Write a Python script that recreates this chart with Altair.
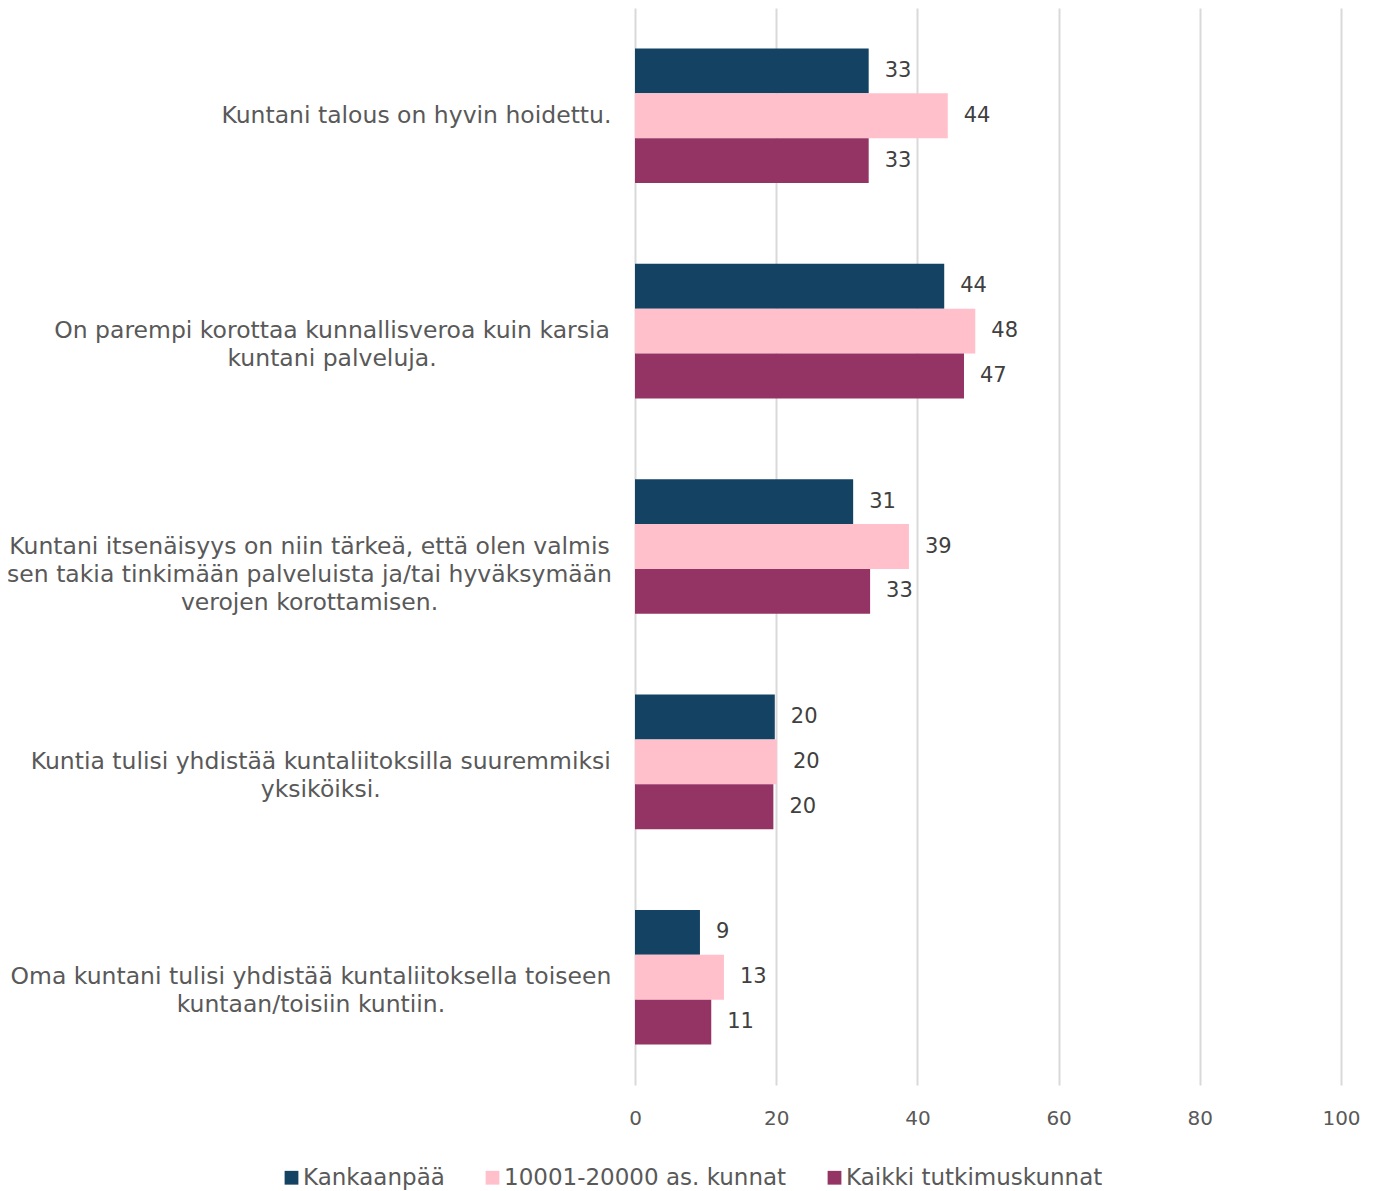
import altair as alt
import pandas as pd

FONT = "DejaVu Sans"
CAT_FONT_SIZE = 23.5

categories = [
    "Kuntani talous on hyvin hoidettu.",
    "On parempi korottaa kunnallisveroa kuin karsia|kuntani palveluja.",
    "Kuntani itsenäisyys on niin tärkeä, että olen valmis|sen takia tinkimään palveluista ja/tai hyväksymään|verojen korottamisen.",
    "Kuntia tulisi yhdistää kuntaliitoksilla suuremmiksi|yksiköiksi.",
    "Oma kuntani tulisi yhdistää kuntaliitoksella toiseen|kuntaan/toisiin kuntiin.",
]
series = ["Kankaanpää", "10001-20000 as. kunnat", "Kaikki tutkimuskunnat"]
kankaanpaa = [33.1, 43.8, 30.9, 19.8, 9.2]
kunnat_10001_20000 = [44.3, 48.2, 38.8, 20.1, 12.6]
kaikki = [33.1, 46.6, 33.3, 19.6, 10.8]
colors = ["#134263", "#FFC0CB", "#933465"]
x_ticks = [0, 20, 40, 60, 80, 100]

# approximate DejaVu Sans advance widths (1/2048 em) to right-align centred label blocks
ADV = {" ": 651, ".": 651, ",": 651, "/": 690, "-": 739,
       "a": 1255, "b": 1300, "c": 1126, "d": 1300, "e": 1260, "f": 721,
       "g": 1300, "h": 1298, "i": 569, "j": 569, "k": 1186, "l": 569,
       "m": 1995, "n": 1298, "o": 1253, "p": 1300, "r": 842, "s": 1067,
       "t": 803, "u": 1298, "v": 1212, "y": 1212, "ä": 1255, "ö": 1253,
       "K": 1343, "O": 1612}


def text_width(s):
    return sum(ADV.get(ch, 1250) for ch in s) / 2048 * CAT_FONT_SIZE


rows = []
for i, c in enumerate(categories):
    for s, vals in zip(series, [kankaanpaa, kunnat_10001_20000, kaikki]):
        rows.append({"cat": c, "series": s, "value": vals[i]})
df = pd.DataFrame(rows)

lab_df = pd.DataFrame({
    "cat": categories,
    "blockw": [max(text_width(p) for p in c.split("|")) for c in categories],
})

y_enc = alt.Y("cat:N", sort=categories, axis=None,
              scale=alt.Scale(paddingInner=0.375, paddingOuter=0.1875))
x_enc = alt.X("value:Q", scale=alt.Scale(domain=[0, 100], nice=False),
              axis=alt.Axis(values=x_ticks, title=None, domain=False, ticks=False,
                            tickSize=0, labelPadding=23, labelFontSize=20,
                            labelFlush=False,
                            labelColor="#595959", labelFont=FONT,
                            gridColor="#D9D9D9", gridWidth=2))
yoff = alt.YOffset("series:N", sort=series,
                   scale=alt.Scale(paddingInner=0, paddingOuter=0))

bars = alt.Chart(df).mark_bar().encode(
    x=x_enc,
    y=y_enc,
    yOffset=yoff,
    color=alt.Color("series:N", sort=series,
                    scale=alt.Scale(domain=series, range=colors),
                    legend=alt.Legend(orient="none", legendX=-355, legendY=1158,
                                      direction="horizontal", title=None,
                                      symbolType="square", symbolSize=190,
                                      symbolStrokeWidth=0, labelLimit=0,
                                      labelFontSize=23, labelFont=FONT,
                                      labelColor="#595959", labelOffset=0,
                                      columnPadding=36)),
)

values = alt.Chart(df).mark_text(align="left", baseline="middle", dx=16,
                                 fontSize=21, font=FONT, color="#404040").encode(
    x="value:Q",
    y=alt.Y("cat:N", sort=categories),
    yOffset=alt.YOffset("series:N", sort=series),
    text=alt.Text("value:Q", format=".0f"),
)

cat_labels = alt.Chart(lab_df).mark_text(
    align="center", baseline="middle", lineBreak="|", lineHeight=28,
    fontSize=CAT_FONT_SIZE, font=FONT, color="#595959",
    dx=alt.ExprRef("-23 - datum.blockw / 2"),
).encode(
    x=alt.value(0),
    y=alt.Y("cat:N", sort=categories),
    text="cat:N",
)

chart = alt.layer(bars, values, cat_labels).properties(
    width=706, height=1077,
    autosize=alt.AutoSizeParams(type="none"),
    padding={"left": 627, "top": 0, "right": 27, "bottom": 106},
).configure_view(stroke=None)

chart.save("out.html", embed_options={"renderer": "svg", "actions": False})
